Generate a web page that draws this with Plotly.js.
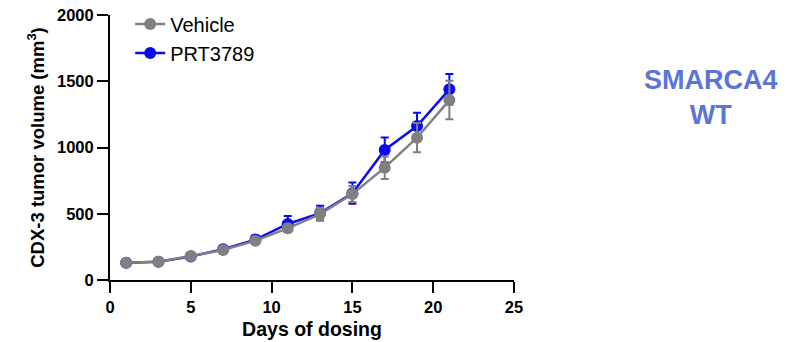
<!DOCTYPE html>
<html>
<head>
<meta charset="utf-8">
<script src="https://cdn.plot.ly/plotly-3.0.1.min.js"></script>
<style>html,body{margin:0;padding:0;background:#fff;}#chart{width:794px;height:342px;}</style>
</head>
<body>
<div id="chart"></div>
<script>
const days = [1, 3, 5, 7, 9, 11, 13, 15, 17, 19, 21];
const vehicleMean = [131, 138, 181, 226, 297, 390, 498, 649, 848, 1074, 1358];
const vehicleErr  = [10, 10, 12, 15, 20, 30, 45, 60, 85, 110, 145];
const prtMean     = [131, 138, 178, 232, 305, 423, 505, 655, 981, 1162, 1439];
const prtErr      = [10, 10, 12, 15, 30, 60, 55, 80, 95, 100, 115];
const seriesNames = ["Vehicle", "PRT3789"];
const seriesColors = ["#808080", "#0b0bf0"];

const FONT = "Liberation Sans, Arial, sans-serif";

const mk = (name, y, e, color) => ({
  x: days, y: y, name: name, type: "scatter", mode: "lines+markers",
  line: {color: color, width: 2.5},
  marker: {color: color, size: 12},
  error_y: {type: "data", array: e, visible: true, color: color, thickness: 2, width: 4}
});

const data = [
  mk(seriesNames[1], prtMean, prtErr, seriesColors[1]),
  mk(seriesNames[0], vehicleMean, vehicleErr, seriesColors[0])
];

const layout = {
  width: 794, height: 342,
  margin: {l: 110, r: 280, t: 15, b: 62, autoexpand: false},
  paper_bgcolor: "#fff", plot_bgcolor: "#fff",
  font: {family: FONT, color: "#000"},
  showlegend: true,
  legend: {x: 0.05, y: 1.04, xanchor: "left", yanchor: "top", traceorder: "reversed",
           font: {size: 20, color: "#000", family: FONT}, bgcolor: "rgba(0,0,0,0)", tracegroupgap: 0},
  xaxis: {
    range: [0, 25], tickvals: [0, 5, 10, 15, 20, 25],
    showline: true, linecolor: "#000", linewidth: 2, mirror: false,
    ticks: "outside", ticklen: 11, tickwidth: 2, tickcolor: "#000",
    showgrid: false, zeroline: false,
    tickfont: {size: 16.5, family: FONT, weight: "bold"},
    title: {text: "<b>Days of dosing</b>", font: {size: 19.5, family: FONT}, standoff: 8}
  },
  yaxis: {
    range: [0, 2000], tickvals: [0, 500, 1000, 1500, 2000],
    showline: true, linecolor: "#000", linewidth: 2,
    ticks: "outside", ticklen: 11, tickwidth: 2, tickcolor: "#000",
    showgrid: false, zeroline: false,
    tickfont: {size: 16.5, family: FONT, weight: "bold"},
    title: {text: "<b>CDX-3 tumor volume (mm<sup>3</sup>)</b>", font: {size: 18.5, family: FONT}, standoff: 8}
  },
  annotations: [{
    xref: "paper", yref: "paper", x: 1.488, y: 0.69, xanchor: "center", yanchor: "middle",
    text: "<b>SMARCA4<br>WT</b>", showarrow: false,
    font: {size: 27, color: "#5b74d9", family: FONT}
  }]
};

Plotly.newPlot("chart", data, layout, {displayModeBar: false, staticPlot: true});
</script>
</body>
</html>
